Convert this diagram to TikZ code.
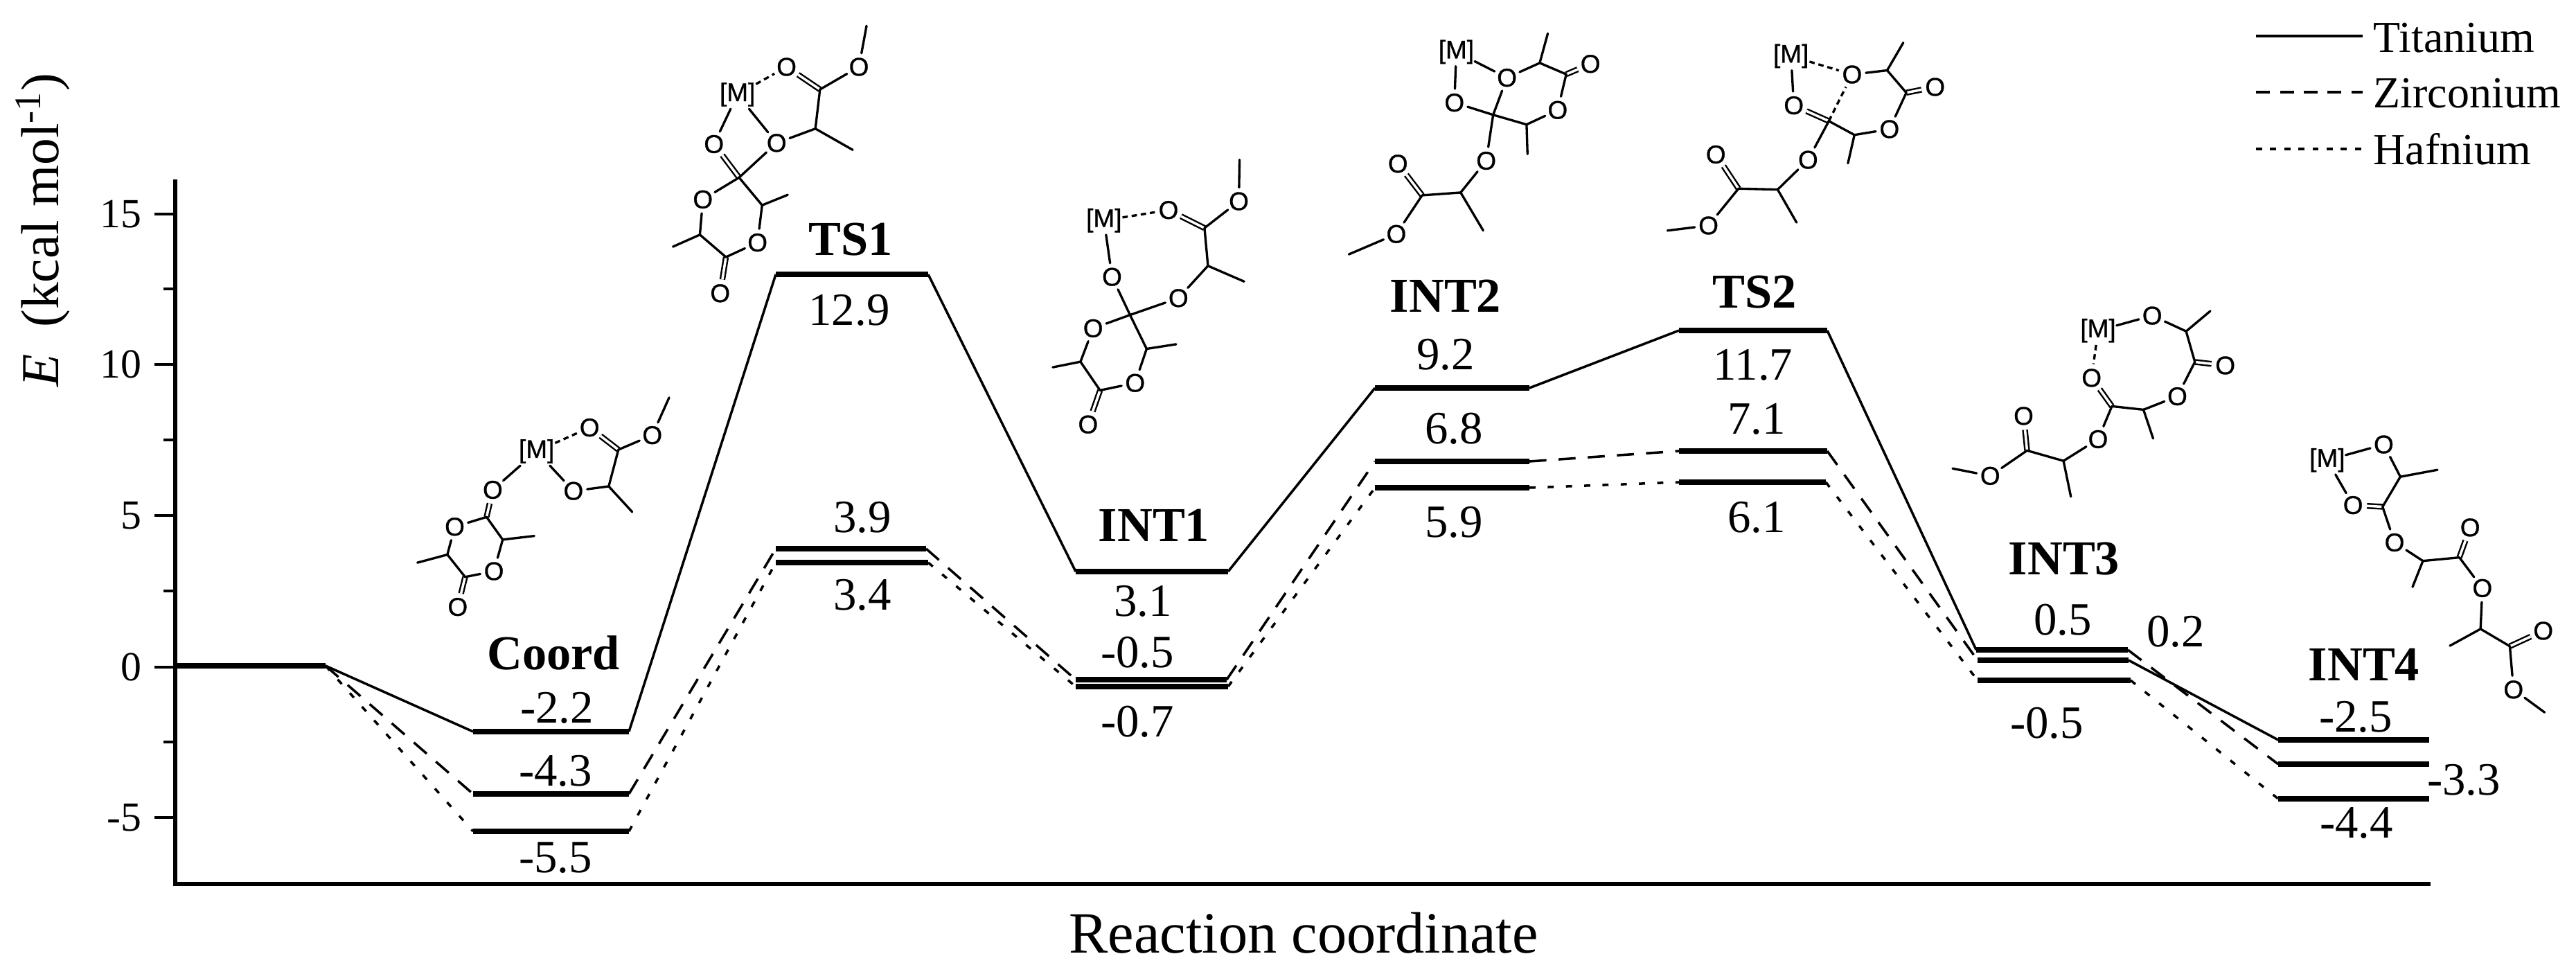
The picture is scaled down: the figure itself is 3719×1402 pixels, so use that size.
\documentclass[tikz,border=0pt]{standalone}
\usepackage{fontspec}
\setmainfont{Liberation Serif}
\newfontfamily\molfont[FakeBold=0.8]{Liberation Sans}
\newcommand{\mO}[3]{\node[atom] (#1) at (#2,#3) {O};}
\newcommand{\mM}[3]{\node[metal] (#1) at (#2,#3) {[M]};}
\newcommand{\mC}[3]{\coordinate (#1) at (#2,#3);}
\newcommand{\bnd}[2]{\draw[bond] (#1) -- (#2);}
\newcommand{\dbl}[2]{\draw[dblbond] (#1) -- (#2);}
\newcommand{\dsh}[2]{\draw[dshbond] (#1) -- (#2);}
\newcommand{\lvl}[4]{\coordinate (#1l) at (#2,#4); \coordinate (#1r) at (#3,#4); \draw[enlevel] (#1l) -- (#1r);}
\tikzset{
  atom/.style={circle,inner sep=0pt,minimum size=0.38cm,font=\molfont\fontsize{10.5}{12}\selectfont},
  metal/.style={rectangle,inner sep=0pt,minimum width=0.52cm,minimum height=0.40cm,font=\molfont\fontsize{10.5}{12}\selectfont},
  bond/.style={line width=0.95pt,line cap=round},
  dblbond/.style={line width=0.7pt,double,double distance=1.0pt},
  dshbond/.style={line width=0.95pt,dash pattern=on 2.2pt off 1.6pt},
  mol/.style={shift={#1},x=0.0033333cm,y=-0.0033333cm},
  enlevel/.style={line width=2.3pt},
  ticonn/.style={line width=1pt},
  zrconn/.style={line width=1pt,dash pattern=on 7pt off 5pt},
  hfconn/.style={line width=1pt,dash pattern=on 2.5pt off 5pt},
  zrleg/.style={line width=1pt,dash pattern=on 5.7pt off 4.1pt},
  hfleg/.style={line width=1pt,dash pattern=on 2.5pt off 3.3pt},
  axln/.style={line width=1.7pt},
  tickln/.style={line width=1pt},
  valtxt/.style={font=\fontsize{19}{20}\selectfont,inner sep=0pt},
  sttxt/.style={font=\bfseries\fontsize{20}{22}\selectfont,inner sep=0pt},
  ticklab/.style={font=\fontsize{17}{19}\selectfont,inner sep=0pt,anchor=east},
  legtxt/.style={font=\fontsize{18.2}{20}\selectfont,inner sep=0pt,anchor=base west}
}
\begin{document}
\begin{tikzpicture}[x=0.01cm,y=-0.01cm]
\useasboundingbox (0,0) rectangle (3719,1402);
% axes
\coordinate (axtop) at (253,262);
\coordinate (axorg) at (253,1276);
\coordinate (axend) at (3506,1276);
\draw[axln,line cap=rect] (axtop) -- (axorg) -- (axend);
\foreach \yy/\lab in {309/15,526/10,744/5,963/0,1180/-5}{
  \coordinate (tk\lab) at (253,\yy);
  \coordinate (tke\lab) at (223,\yy);
  \draw[tickln] (tk\lab) -- (tke\lab);
  \node[ticklab] (tl\lab) at (205,\yy) {\lab};
}
\foreach \yy/\lab in {417/a,635/b,853/c,1071/d}{
  \coordinate (mk\lab) at (253,\yy);
  \coordinate (mke\lab) at (236,\yy);
  \draw[tickln] (mk\lab) -- (mke\lab);
}
\node[rotate=90,font=\fontsize{22}{24}\selectfont,inner sep=0pt] (ylab) at (62,332) {\textit{E}\enspace(kcal mol\textsuperscript{-1})};
\node[font=\fontsize{24}{26}\selectfont,inner sep=0pt] (xlab) at (1882,1347) {Reaction coordinate};
% levels
\lvl{o}{254}{470}{961}
\lvl{ta}{683}{908}{1056}\lvl{za}{683}{908}{1146}\lvl{ha}{683}{908}{1200}
\lvl{tb}{1120}{1340}{396}\lvl{zb}{1120}{1337}{792}\lvl{hb}{1120}{1340}{812}
\lvl{tc}{1553}{1773}{825}\lvl{zc}{1553}{1771}{981}\lvl{hc}{1553}{1773}{991}
\lvl{td}{1985}{2208}{560}\lvl{zd}{1985}{2208}{666}\lvl{hd}{1985}{2208}{704}
\lvl{te}{2424}{2638}{477}\lvl{ze}{2424}{2638}{651}\lvl{he}{2424}{2636}{696}
\lvl{tf}{2853}{3072}{938}\lvl{zf}{2855}{3073}{953}\lvl{hf}{2855}{3076}{982}
\lvl{tg}{3289}{3507}{1068}\lvl{zg}{3289}{3507}{1103}\lvl{hg}{3289}{3507}{1153}
% connectors
\draw[ticonn] (or)--(tal) (tar)--(tbl) (tbr)--(tcl) (tcr)--(tdl) (tdr)--(tel) (ter)--(tfl) (zfr)--(tgl);
\draw[zrconn] (or)--(zal);
\draw[zrconn] (zar)--(zbl);
\draw[zrconn] (zbr)--(zcl);
\draw[zrconn] (zcr)--(zdl);
\draw[zrconn] (zdr)--(zel);
\draw[zrconn] (zer)--(zfl);
\draw[zrconn] (tfr)--(zgl);
\draw[hfconn] (or)--(hal);
\draw[hfconn] (har)--(hbl);
\draw[hfconn] (hbr)--(hcl);
\draw[hfconn] (hcr)--(hdl);
\draw[hfconn] (hdr)--(hel);
\draw[hfconn] (her)--(hfl);
\draw[hfconn] (hfr)--(hgl);
% values
\node[valtxt] (v1) at (804,1022) {-2.2};
\node[valtxt] (v2) at (802,1113) {-4.3};
\node[valtxt] (v3) at (802,1238) {-5.5};
\node[valtxt] (v4) at (1226,448) {12.9};
\node[valtxt] (v5) at (1245,747) {3.9};
\node[valtxt] (v6) at (1245,859) {3.4};
\node[valtxt] (v7) at (1650,868) {3.1};
\node[valtxt] (v8) at (1642,942) {-0.5};
\node[valtxt] (v9) at (1642,1042) {-0.7};
\node[valtxt] (v10) at (2087,512) {9.2};
\node[valtxt] (v11) at (2099,619) {6.8};
\node[valtxt] (v12) at (2099,754) {5.9};
\node[valtxt] (v13) at (2531,527) {11.7};
\node[valtxt] (v14) at (2536,605) {7.1};
\node[valtxt] (v15) at (2536,747) {6.1};
\node[valtxt] (v16) at (2978,895) {0.5};
\node[valtxt] (v17) at (3141,912) {0.2};
\node[valtxt] (v18) at (2955,1044) {-0.5};
\node[valtxt] (v19) at (3401,1035) {-2.5};
\node[valtxt] (v20) at (3557,1126) {-3.3};
\node[valtxt] (v21) at (3402,1188) {-4.4};
% state names
\node[sttxt] (n1) at (799,942) {Coord};
\node[sttxt] (n2) at (1228,346) {TS1};
\node[sttxt] (n3) at (1666,758) {INT1};
\node[sttxt] (n4) at (2087,427) {INT2};
\node[sttxt] (n5) at (2533,422) {TS2};
\node[sttxt] (n6) at (2980,807) {INT3};
\node[sttxt] (n7) at (3413,959) {INT4};
% legend
\coordinate (l1a) at (3257,52); \coordinate (l1b) at (3411,52);
\coordinate (l2a) at (3257,133); \coordinate (l2b) at (3411,133);
\coordinate (l3a) at (3257,215); \coordinate (l3b) at (3411,215);
\draw[ticonn] (l1a) -- (l1b);
\draw[zrleg] (l2a) -- (l2b);
\draw[hfleg] (l3a) -- (l3b);
\node[legtxt] (lt1) at (3426,75) {Titanium};
\node[legtxt] (lt2) at (3426,155) {Zirconium};
\node[legtxt] (lt3) at (3426,237) {Hafnium};
% Coord molecule
\begin{scope}[mol={(560,500)}]
\mM{aM}{645}{455}\mO{aO1}{875}{352}\mO{aO2}{1147}{385}\mC{aC1}{1000}{448}\mC{aMe1}{1220}{222}
\mC{aC2}{958}{607}\mO{aO3}{805}{627}\mC{aMe2}{1060}{718}\mO{aO4}{455}{622}\mC{aC3}{428}{740}
\mO{aO5}{290}{782}\mC{aC4}{498}{838}\mC{aMe3}{635}{822}\mO{aO6}{460}{975}\mC{aC5}{335}{1000}
\mC{aC6}{258}{903}\mC{aMe4}{128}{938}\mO{aO7}{303}{1130}
\dbl{aO1}{aC1}\dbl{aO4}{aC3}\dbl{aC5}{aO7}
\dsh{aM}{aO1}\bnd{aC1}{aO2}\bnd{aO2}{aMe1}\bnd{aC1}{aC2}\bnd{aC2}{aO3}\bnd{aO3}{aM}\bnd{aC2}{aMe2}
\bnd{aM}{aO4}\bnd{aC3}{aO5}\bnd{aC3}{aC4}\bnd{aC4}{aMe3}\bnd{aC4}{aO6}\bnd{aO6}{aC5}\bnd{aC5}{aC6}\bnd{aC6}{aO5}\bnd{aC6}{aMe4}
\end{scope}
% TS1 molecule
\begin{scope}[mol={(860,0)}]
\mM{bM}{615}{410}\mO{bO1}{828}{290}\mC{bC1}{973}{388}\mO{bO2}{1142}{290}\mC{bMe1}{1175}{112}
\mC{bC2}{953}{558}\mO{bO3}{785}{620}\mC{bMe2}{1115}{650}\mO{bO4}{513}{625}\mC{bC3}{622}{770}
\mO{bO5}{465}{865}\mC{bC4}{722}{890}\mC{bMe3}{833}{845}\mO{bO6}{702}{1052}\mC{bC5}{565}{1115}
\mC{bC6}{452}{1018}\mC{bMe4}{335}{1070}\mO{bO7}{540}{1272}
\dbl{bO1}{bC1}\dbl{bO4}{bC3}\dbl{bC5}{bO7}
\dsh{bM}{bO1}\bnd{bC1}{bO2}\bnd{bO2}{bMe1}\bnd{bC1}{bC2}\bnd{bC2}{bO3}\bnd{bC2}{bMe2}\bnd{bO3}{bM}
\bnd{bM}{bO4}\bnd{bC3}{bO3}\bnd{bC3}{bO5}\bnd{bC3}{bC4}\bnd{bC4}{bMe3}\bnd{bC4}{bO6}\bnd{bO6}{bC5}\bnd{bC5}{bC6}\bnd{bC6}{bO5}\bnd{bC6}{bMe4}
\end{scope}
% INT1 molecule
\begin{scope}[mol={(1480,200)}]
\mM{cM}{342}{355}\mO{cO1}{622}{310}\mC{cC1}{778}{388}\mO{cO2}{927}{272}\mC{cMe1}{930}{92}
\mC{cC2}{793}{552}\mC{cMe2}{950}{620}\mO{cO3}{665}{692}\mC{cC3}{455}{765}\mO{cO4}{377}{600}
\mO{cO5}{295}{823}\mC{cC4}{527}{912}\mC{cMe3}{655}{892}\mO{cO6}{477}{1060}\mC{cC5}{325}{1092}
\mC{cC6}{240}{968}\mC{cMe4}{120}{992}\mO{cO7}{273}{1240}
\dbl{cO1}{cC1}\dbl{cC5}{cO7}
\dsh{cM}{cO1}\bnd{cC1}{cO2}\bnd{cO2}{cMe1}\bnd{cC1}{cC2}\bnd{cC2}{cMe2}\bnd{cC2}{cO3}\bnd{cO3}{cC3}\bnd{cC3}{cO4}\bnd{cO4}{cM}
\bnd{cC3}{cO5}\bnd{cC3}{cC4}\bnd{cC4}{cMe3}\bnd{cC4}{cO6}\bnd{cO6}{cC5}\bnd{cC5}{cC6}\bnd{cC6}{cO5}\bnd{cC6}{cMe4}
\end{scope}
% INT2 molecule
\begin{scope}[mol={(1940,20)}]
\mM{dM}{488}{165}\mO{dO1}{480}{385}\mC{dC1}{648}{438}\mO{dO2}{708}{277}\mC{dC2}{850}{213}\mC{dMe1}{885}{85}
\mC{dC3}{965}{262}\mO{dO3}{1070}{217}\mO{dO4}{928}{417}\mC{dC4}{793}{480}\mC{dMe2}{797}{608}
\mO{dO5}{618}{637}\mC{dC5}{507}{775}\mC{dMe3}{605}{940}\mC{dC6}{340}{787}\mO{dO6}{235}{650}\mO{dO7}{228}{955}\mC{dMe4}{22}{1043}
\dbl{dC3}{dO3}\dbl{dC6}{dO6}
\bnd{dM}{dO1}\bnd{dO1}{dC1}\bnd{dM}{dO2}\bnd{dC1}{dO2}\bnd{dO2}{dC2}\bnd{dC2}{dMe1}\bnd{dC2}{dC3}\bnd{dC3}{dO4}\bnd{dO4}{dC4}\bnd{dC4}{dC1}\bnd{dC4}{dMe2}
\bnd{dC1}{dO5}\bnd{dO5}{dC5}\bnd{dC5}{dMe3}\bnd{dC5}{dC6}\bnd{dC6}{dO7}\bnd{dO7}{dMe4}
\end{scope}
% TS2 molecule
\begin{scope}[mol={(2400,20)}]
\mM{eM}{558}{183}\mO{eO1}{570}{397}\mC{eC1}{722}{465}\mO{eO2}{823}{263}\mC{eC2}{975}{245}\mC{eMe1}{1045}{125}
\mC{eC3}{1058}{342}\mO{eO3}{1183}{317}\mO{eO4}{985}{500}\mC{eC4}{833}{525}\mC{eMe2}{805}{648}
\mO{eO5}{632}{633}\mC{eC5}{500}{762}\mC{eMe3}{582}{905}\mC{eC6}{330}{758}\mO{eO6}{232}{610}\mO{eO7}{200}{918}\mC{eMe4}{22}{940}
\dbl{eO1}{eC1}\dbl{eC3}{eO3}\dbl{eC6}{eO6}
\bnd{eM}{eO1}\dsh{eM}{eO2}\dsh{eC1}{eO2}\bnd{eO2}{eC2}\bnd{eC2}{eMe1}\bnd{eC2}{eC3}\bnd{eC3}{eO4}\bnd{eO4}{eC4}\bnd{eC4}{eC1}\bnd{eC4}{eMe2}
\bnd{eC1}{eO5}\bnd{eO5}{eC5}\bnd{eC5}{eMe3}\bnd{eC5}{eC6}\bnd{eC6}{eO7}\bnd{eO7}{eMe4}
\end{scope}
% INT3 molecule
\begin{scope}[mol={(2800,400)}]
\mM{fM}{688}{232}\mO{fO1}{923}{167}\mC{fC1}{1070}{235}\mC{fMe1}{1175}{147}\mC{fC2}{1108}{368}\mO{fO2}{1240}{383}
\mO{fO3}{1032}{517}\mC{fC3}{885}{575}\mC{fMe2}{927}{700}\mC{fC4}{748}{560}\mO{fO4}{660}{437}\mO{fO5}{688}{703}
\mC{fC5}{538}{797}\mC{fMe3}{570}{952}\mC{fC6}{380}{752}\mO{fO6}{365}{602}\mO{fO7}{220}{862}\mC{fMe4}{57}{830}
\dbl{fC2}{fO2}\dbl{fC4}{fO4}\dbl{fC6}{fO6}
\bnd{fM}{fO1}\bnd{fO1}{fC1}\bnd{fC1}{fMe1}\bnd{fC1}{fC2}\bnd{fC2}{fO3}\bnd{fO3}{fC3}\bnd{fC3}{fMe2}\bnd{fC3}{fC4}\dsh{fM}{fO4}
\bnd{fC4}{fO5}\bnd{fO5}{fC5}\bnd{fC5}{fMe3}\bnd{fC5}{fC6}\bnd{fC6}{fO7}\bnd{fO7}{fMe4}
\end{scope}
% INT4 molecule
\begin{scope}[mol={(3260,580)}]
\mM{gM}{300}{253}\mO{gO1}{545}{185}\mC{gC1}{617}{325}\mC{gMe1}{778}{295}\mC{gC2}{540}{455}\mO{gO2}{412}{448}
\mO{gO3}{592}{610}\mC{gC3}{715}{690}\mC{gMe2}{670}{803}\mC{gC4}{873}{675}\mO{gO4}{920}{545}\mO{gO5}{973}{808}
\mC{gC5}{965}{985}\mC{gMe3}{832}{1058}\mC{gC6}{1092}{1060}\mO{gO6}{1237}{993}\mO{gO7}{1108}{1248}\mC{gMe4}{1243}{1347}
\dbl{gC2}{gO2}\dbl{gC4}{gO4}\dbl{gC6}{gO6}
\bnd{gM}{gO1}\bnd{gO1}{gC1}\bnd{gC1}{gMe1}\bnd{gC1}{gC2}\bnd{gM}{gO2}\bnd{gC2}{gO3}\bnd{gO3}{gC3}\bnd{gC3}{gMe2}\bnd{gC3}{gC4}
\bnd{gC4}{gO5}\bnd{gO5}{gC5}\bnd{gC5}{gMe3}\bnd{gC5}{gC6}\bnd{gC6}{gO7}\bnd{gO7}{gMe4}
\end{scope}
\end{tikzpicture}
\end{document}
